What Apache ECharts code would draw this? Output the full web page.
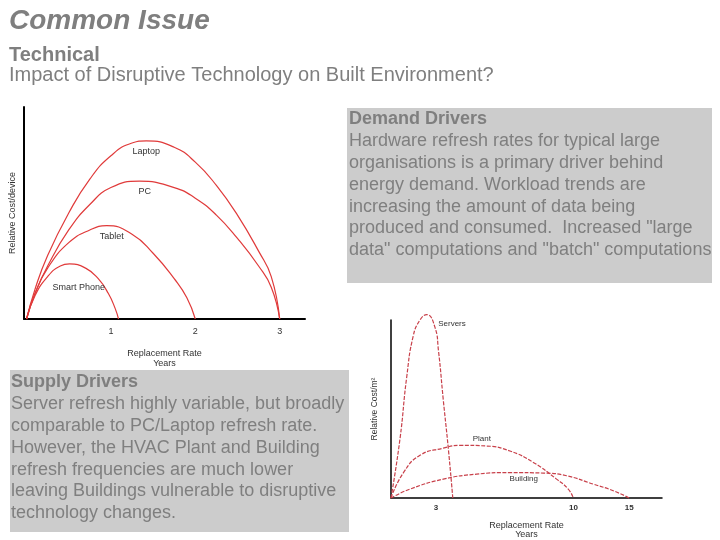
<!DOCTYPE html>
<html>
<head>
<meta charset="utf-8">
<script src="https://cdn.jsdelivr.net/npm/echarts@6/dist/echarts.min.js"></script>
<style>
	html, body { margin: 0; padding: 0; background: #fff; }
	#chart { width: 720px; height: 540px; }
</style>
</head>
<body>
<div id="chart"></div>
<script>
	// 左图：设备更换周期（年）与相对成本
	const laptop = [[0, 0], [0.1, 14], [0.25, 30], [0.5, 50], [0.75, 66], [1.0, 77], [1.25, 83], [1.42, 84], [1.75, 81], [2.0, 74], [2.25, 63], [2.5, 49], [2.75, 32], [2.9, 20], [3.0, 0]]
	const pc = [[0, 0], [0.1, 12], [0.25, 25], [0.5, 42], [0.75, 54], [1.0, 62], [1.34, 65], [1.75, 62], [2.0, 57], [2.25, 49], [2.5, 38], [2.75, 25], [2.9, 15], [3.0, 0]]
	const tablet = [[0, 0], [0.1, 12], [0.25, 24], [0.5, 36], [0.75, 42], [0.95, 44], [1.25, 40], [1.5, 31], [1.75, 19], [1.9, 10], [2.0, 0]]
	const smartPhone = [[0, 0], [0.1, 11], [0.25, 20], [0.4, 25], [0.51, 26], [0.7, 24], [0.85, 19], [0.97, 12], [1.05, 5], [1.09, 0]]
	const leftTicks = [1, 2, 3]

	// 右图：服务器 / 机房设备 / 建筑（横轴为图上相对位置，刻度文字单独给出）
	const servers = [[0, 0], [3.3, 33], [5.8, 68], [8.2, 91], [10.7, 100], [13.2, 103], [16.2, 96], [17.5, 83], [19.3, 55], [21.2, 27], [22.8, 0]]
	const plant = [[0, 0], [4.5, 14], [10.7, 24], [19.3, 28], [25.5, 29.6], [35.3, 29.2], [43.9, 26.4], [52.5, 20], [61.1, 10.6], [65.4, 5], [67.3, 0]]
	const building = [[0, 0], [7, 5], [19.3, 10.6], [31.6, 13.4], [43.9, 14.3], [56.2, 14], [64.8, 12.5], [74.6, 7.8], [82, 4.1], [87.9, 0]]
	const rightTickValues = [16.6, 67.3, 87.9]
	const rightTickLabels = ['3', '10', '15']

	const FONT = 'Liberation Sans, Arial, sans-serif'
	const TEXT_GRAY = '#7f7f7f'

	const demandLines = [
		'Hardware refresh rates for typical large',
		'organisations is a primary driver behind',
		'energy demand. Workload trends are',
		'increasing the amount of data being',
		'produced and consumed.  Increased "large',
		'data" computations and "batch" computations'
	]
	const supplyLines = [
		'Server refresh highly variable, but broadly',
		'comparable to PC/Laptop refresh rate.',
		'However, the HVAC Plant and Building',
		'refresh frequencies are much lower',
		'leaving Buildings vulnerable to disruptive',
		'technology changes.'
	]

	const chart = echarts.init(document.getElementById('chart'))

	// 曲线标签
	const curveLabel = (text, coord, size) => ({
		symbol: 'circle',
		symbolSize: 1,
		silent: true,
		itemStyle: { color: 'rgba(0,0,0,0)' },
		label: { show: true, position: 'inside', formatter: text, color: '#333', fontSize: size, fontFamily: FONT },
		data: [{ coord: coord }]
	})

	const leftLine = (data, text, coord) => ({
		type: 'line',
		xAxisIndex: 0,
		yAxisIndex: 0,
		data: data,
		smooth: 0.5,
		showSymbol: false,
		clip: false,
		lineStyle: { color: '#e03a3a', width: 1.2 },
		markPoint: curveLabel(text, coord, 9)
	})

	const rightLine = (data, text, coord) => ({
		type: 'line',
		xAxisIndex: 1,
		yAxisIndex: 1,
		data: data,
		smooth: 0.5,
		showSymbol: false,
		clip: false,
		lineStyle: { color: '#c8404a', width: 1.2, type: [4, 1.5] },
		markPoint: curveLabel(text, coord, 8)
	})

	const axisName = { fontSize: 9, color: '#333', fontFamily: FONT, lineHeight: 10 }

	const option = {
		animation: false,
		backgroundColor: '#fff',
		grid: [
			{ left: 24, top: 107, width: 281, height: 212 },
			{ left: 391, top: 320, width: 271, height: 179 }
		],
		xAxis: [
			{
				gridIndex: 0,
				type: 'value',
				min: -0.03,
				max: 3.3,
				splitLine: { show: false },
				axisLine: { lineStyle: { color: '#000', width: 2 } },
				axisTick: { show: false },
				axisLabel: { customValues: leftTicks, fontSize: 9, color: '#333', margin: 8, fontFamily: FONT },
				name: 'Replacement Rate\nYears',
				nameLocation: 'middle',
				nameGap: 30,
				nameTextStyle: axisName
			},
			{
				gridIndex: 1,
				type: 'value',
				min: 0,
				max: 100,
				splitLine: { show: false },
				axisLine: { lineStyle: { color: '#000', width: 1.5 } },
				axisTick: { show: false },
				axisLabel: {
					customValues: rightTickValues,
					formatter: (v) => rightTickLabels[rightTickValues.indexOf(v)] || '',
					fontSize: 8,
					fontWeight: 'bold',
					color: '#333',
					margin: 6,
					fontFamily: FONT
				},
				name: 'Replacement Rate\nYears',
				nameLocation: 'middle',
				nameGap: 23,
				nameTextStyle: { fontSize: 9, color: '#333', fontFamily: FONT, lineHeight: 9 }
			}
		],
		yAxis: [
			{
				gridIndex: 0,
				type: 'value',
				min: 0,
				max: 100,
				splitLine: { show: false },
				axisLine: { show: true, onZero: false, lineStyle: { color: '#000', width: 2 } },
				axisTick: { show: false },
				axisLabel: { show: false },
				name: 'Relative Cost/device',
				nameLocation: 'middle',
				nameGap: 6,
				nameTextStyle: axisName
			},
			{
				gridIndex: 1,
				type: 'value',
				min: 0,
				max: 100,
				splitLine: { show: false },
				axisLine: { show: true, onZero: false, lineStyle: { color: '#000', width: 1.5 } },
				axisTick: { show: false },
				axisLabel: { show: false },
				name: 'Relative Cost/m²',
				nameLocation: 'middle',
				nameGap: 12,
				nameTextStyle: { fontSize: 8.5, color: '#333', fontFamily: FONT }
			}
		],
		series: [
			leftLine(laptop, 'Laptop', [1.42, 79]),
			leftLine(pc, 'PC', [1.4, 60]),
			leftLine(tablet, 'Tablet', [1.01, 38.7]),
			leftLine(smartPhone, 'Smart Phone', [0.62, 15]),
			rightLine(servers, 'Servers', [22.5, 98]),
			rightLine(plant, 'Plant', [33.5, 33.5]),
			rightLine(building, 'Building', [49, 10.6])
		],
		graphic: [
			{ type: 'text', x: 9, y: 21, style: { text: 'Common Issue', fill: TEXT_GRAY, font: 'italic bold 28px ' + FONT, verticalAlign: 'middle' } },
			{ type: 'text', x: 9, y: 55.5, style: { text: 'Technical', fill: TEXT_GRAY, font: 'bold 20px ' + FONT, verticalAlign: 'middle' } },
			{ type: 'text', x: 9, y: 75, style: { text: 'Impact of Disruptive Technology on Built Environment?', fill: TEXT_GRAY, font: '20px ' + FONT, verticalAlign: 'middle' } },
			{ type: 'rect', shape: { x: 347, y: 108, width: 365, height: 175 }, style: { fill: '#cccccc' }, z: -1 },
			{ type: 'text', x: 349, y: 119.5, style: { text: 'Demand Drivers', fill: TEXT_GRAY, font: 'bold 18px ' + FONT, verticalAlign: 'middle' } },
			{ type: 'text', x: 349, y: 130.6, style: { text: demandLines.join('\n'), fill: TEXT_GRAY, font: '18px ' + FONT, lineHeight: 21.7, verticalAlign: 'top' } },
			{ type: 'rect', shape: { x: 10, y: 370, width: 339, height: 162 }, style: { fill: '#cccccc' }, z: -1 },
			{ type: 'text', x: 11, y: 382.5, style: { text: 'Supply Drivers', fill: TEXT_GRAY, font: 'bold 18px ' + FONT, verticalAlign: 'middle' } },
			{ type: 'text', x: 11, y: 393.6, style: { text: supplyLines.join('\n'), fill: TEXT_GRAY, font: '18px ' + FONT, lineHeight: 21.7, verticalAlign: 'top' } }
		]
	}

	chart.setOption(option)
</script>
</body>
</html>
